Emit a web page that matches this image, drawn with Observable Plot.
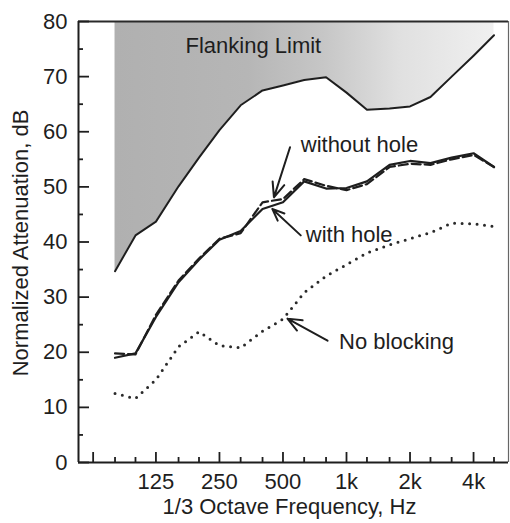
<!DOCTYPE html>
<html>
<head>
<meta charset="utf-8">
<script src="https://cdn.jsdelivr.net/npm/d3@7"></script>
<script src="https://cdn.jsdelivr.net/npm/@observablehq/plot@0.6"></script>
<style>
  html, body { margin: 0; padding: 0; background: #fff; }
  svg { display: block; }
</style>
</head>
<body>
<div id="chart"></div>
<script>
// 1/3 octave band centre frequencies (Hz)
const freqs = [80, 100, 125, 160, 200, 250, 315, 400, 500, 630, 800, 1000, 1250, 1600, 2000, 2500, 3150, 4000, 5000];
// Normalized attenuation, dB
const flankingLimit = [34.7, 41.2, 43.7, 50.1, 55.3, 60.3, 64.8, 67.5, 68.4, 69.4, 69.9, 67.1, 64.0, 64.2, 64.6, 66.3, 70.0, 73.8, 77.5];
const withHole      = [19.0, 19.8, 26.4, 32.7, 36.8, 40.4, 42.0, 46.0, 47.2, 51.0, 49.7, 49.8, 51.0, 54.0, 54.7, 54.3, 55.3, 56.1, 53.6];
const withoutHole   = [19.8, 19.6, 26.8, 33.0, 37.0, 40.6, 41.6, 47.2, 47.8, 51.4, 50.2, 49.4, 50.5, 53.6, 54.2, 54.0, 55.0, 55.8, 53.6];
const noBlocking    = [12.5, 11.6, 15.0, 21.0, 23.7, 21.2, 20.8, 23.8, 26.0, 30.8, 33.8, 35.9, 38.0, 39.5, 40.6, 41.7, 43.4, 43.3, 42.8];

// axes
const xDomain = [53.7, 5857];
const yDomain = [0, 80];
const xMajorTicks = [63, 125, 250, 500, 1000, 2000, 4000];
const xMinorTicks = [80, 100, 160, 200, 315, 400, 630, 800, 1250, 1600, 2500, 3150, 5000];
const xTickLabels = [125, 250, 500, 1000, 2000, 4000];
const xTickText = ["125", "250", "500", "1k", "2k", "4k"];
const yMajorTicks = [0, 10, 20, 30, 40, 50, 60, 70, 80];
const yMinorTicks = [5, 15, 25, 35, 45, 55, 65, 75];
const xTitle = "1/3 Octave Frequency, Hz";
const yTitle = "Normalized Attenuation, dB";

// annotations (frequency, dB)
const labels = [
  {text: "Flanking Limit", f: 172.6, v: 74.3},
  {text: "without hole",   f: 607,   v: 56.3},
  {text: "with hole",      f: 641,   v: 40.0},
  {text: "No blocking",    f: 922,   v: 20.5}
];
const arrows = [
  {f1: 540, v1: 57.2, f2: 453, v2: 48.1},
  {f1: 607, v1: 41.2, f2: 445, v2: 46.0},
  {f1: 813, v1: 22.1, f2: 525, v2: 26.1}
];

const rows = (vals) => freqs.map((f, i) => ({f, v: vals[i]}));
const W = 510, H = 523;
const mL = 78, mR = 2, mT = 21, mB = 61;
const plotW = W - mL - mR, plotH = H - mT - mB;
const ink = "#1e1e1e";

const chart = Plot.plot({
  width: W, height: H,
  marginLeft: mL, marginRight: mR, marginTop: mT, marginBottom: mB,
  style: {fontFamily: "'Liberation Sans', Arial, Helvetica, sans-serif", fontSize: "22px", color: ink, background: "#fff"},
  x: {type: "log", domain: xDomain},
  y: {domain: yDomain},
  marks: [
    Plot.areaY(rows(flankingLimit), {x: "f", y1: "v", y2: yDomain[1], fill: "url(#flankGrad)", curve: "linear"}),
    Plot.line(rows(noBlocking), {x: "f", y: "v", stroke: "#2a2a2a", strokeWidth: 3, strokeDasharray: "0,7.5", strokeLinecap: "round"}),
    Plot.line(rows(withHole), {x: "f", y: "v", stroke: ink, strokeWidth: 2.2}),
    Plot.line(rows(withoutHole), {x: "f", y: "v", stroke: ink, strokeWidth: 2.2, strokeDasharray: "9,4"}),
    Plot.line(rows(flankingLimit), {x: "f", y: "v", stroke: ink, strokeWidth: 2}),
    // frame
    Plot.ruleY([yDomain[1]], {stroke: "#2a2a2a", strokeWidth: 2.2}),
    Plot.ruleX([xDomain[1]], {stroke: "#666", strokeWidth: 1.2}),
    Plot.ruleY([yDomain[0]], {stroke: ink, strokeWidth: 2}),
    Plot.ruleX([xDomain[0]], {stroke: ink, strokeWidth: 2}),
    // inward ticks
    Plot.tickY(yMajorTicks, {y: d => d, insetRight: plotW - 11, stroke: ink, strokeWidth: 1.8}),
    Plot.tickY(yMinorTicks, {y: d => d, insetRight: plotW - 5, stroke: ink, strokeWidth: 1.8}),
    Plot.tickX(xMajorTicks, {x: d => d, insetTop: plotH - 10, stroke: ink, strokeWidth: 1.8}),
    Plot.tickX(xMinorTicks, {x: d => d, insetTop: plotH - 5, stroke: ink, strokeWidth: 1.8}),
    Plot.axisY({ticks: yMajorTicks, tickSize: 0, tickPadding: 11, fontSize: 22, label: null}),
    Plot.axisX({ticks: xTickLabels, tickFormat: d => xTickText[xTickLabels.indexOf(d)], tickSize: 0, tickPadding: 11, fontSize: 22, label: null}),
    // axis titles
    Plot.text([xTitle], {frameAnchor: "bottom", lineAnchor: "bottom", dy: 51, dx: -4, fontSize: 22, fill: ink}),
    Plot.text([yTitle], {frameAnchor: "left", textAnchor: "middle", lineAnchor: "bottom", rotate: -90, dx: -50.5, dy: 1, fontSize: 22, fill: ink}),
    // annotations
    Plot.arrow(arrows, {x1: "f1", y1: "v1", x2: "f2", y2: "v2", stroke: ink, strokeWidth: 2, headLength: 12, headAngle: 45}),
    Plot.text(labels, {x: "f", y: "v", text: "text", textAnchor: "start", lineAnchor: "bottom", fontSize: 22, fill: ink})
  ]
});

const defs = d3.select(chart).insert("defs", ":first-child");
const grad = defs.append("linearGradient").attr("id", "flankGrad").attr("x1", "0").attr("x2", "1").attr("y1", "0").attr("y2", "0");
[[0, "#b0b0b0"], [0.35, "#b6b6b6"], [0.55, "#c6c6c6"], [0.75, "#e0e0e0"], [1, "#f0f0f0"]]
  .forEach(([o, c]) => grad.append("stop").attr("offset", o).attr("stop-color", c));

document.getElementById("chart").appendChild(chart);
</script>
</body>
</html>
